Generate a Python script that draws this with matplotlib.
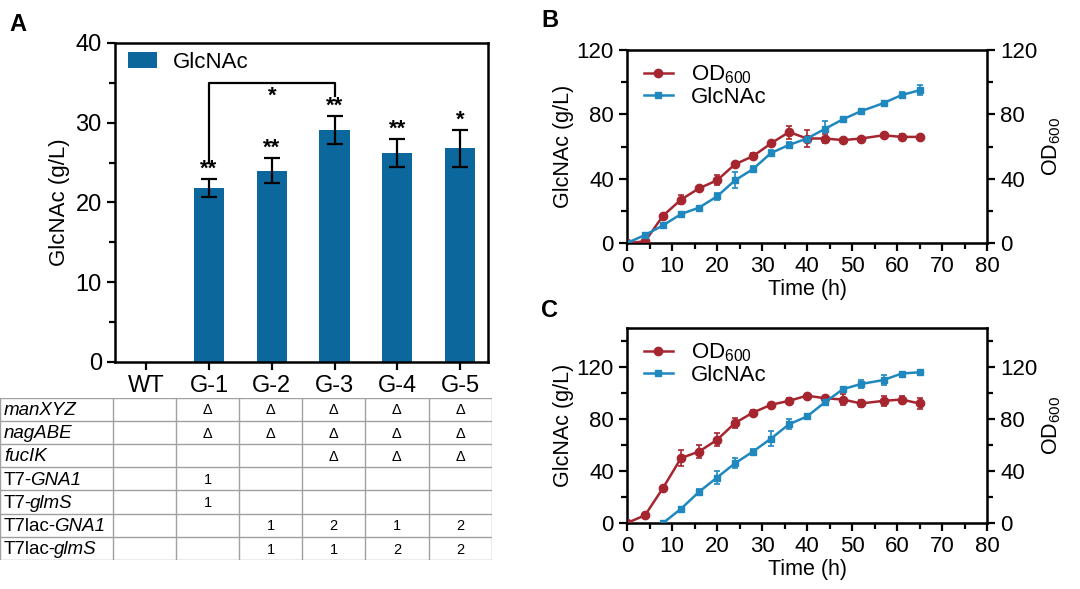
import matplotlib
matplotlib.use("Agg")
import matplotlib.pyplot as plt
from matplotlib.ticker import MultipleLocator
import numpy as np

plt.rcParams["font.family"] = ["Liberation Sans", "DejaVu Sans"]
plt.rcParams["mathtext.fontset"] = "custom"
plt.rcParams["mathtext.rm"] = "Liberation Sans"
plt.rcParams["mathtext.it"] = "Liberation Sans:italic"

# panel A data
strains = ["WT", "G-1", "G-2", "G-3", "G-4", "G-5"]
glcnac_titer = [0, 21.8, 24.0, 29.1, 26.2, 26.8]
glcnac_err = [0, 1.1, 1.6, 1.8, 1.8, 2.3]
sig_marks = ["", "**", "**", "**", "**", "*"]

row_prefix = ["", "", "", "T7-", "T7-", "T7lac-", "T7lac-"]
row_gene = ["manXYZ", "nagABE", "fucIK", "GNA1", "glmS", "GNA1", "glmS"]
table_cells = [
    ["", "Δ", "Δ", "Δ", "Δ", "Δ"],
    ["", "Δ", "Δ", "Δ", "Δ", "Δ"],
    ["", "", "", "Δ", "Δ", "Δ"],
    ["", "1", "", "", "", ""],
    ["", "1", "", "", "", ""],
    ["", "", "1", "2", "1", "2"],
    ["", "", "1", "1", "2", "2"],
]

# panel B data
time_b = [0, 4, 8, 12, 16, 20, 24, 28, 32, 36, 40, 44, 48, 52, 57, 61, 65]
od_b = [0, 1, 17, 27, 34, 39, 49, 54, 62, 69, 65, 65, 64, 65, 67, 66, 66]
od_b_err = [0.5, 1, 1, 3, 1.5, 3, 1.5, 2, 1.5, 4, 5, 3, 1, 1, 1, 2, 1]
glc_b = [0, 5, 11, 18, 22, 29, 39, 46, 56, 61, 65, 71, 77, 82, 87, 92, 95]
glc_b_err = [0.5, 1, 1, 1, 1, 2, 5, 2, 2, 2, 1, 5, 1, 1, 1, 2, 3]

# panel C data
time_c_od = [0, 4, 8, 12, 16, 20, 24, 28, 32, 36, 40, 44, 48, 52, 57, 61, 65]
od_c = [0, 6, 27, 50, 55, 64, 77, 85, 91, 94, 98, 96, 95, 92, 94, 95, 92]
od_c_err = [0.5, 1, 1.5, 6, 5, 5, 4, 2, 1.5, 2, 1, 1.5, 4, 3, 4, 3, 4]
time_c_glc = [8, 12, 16, 20, 24, 28, 32, 36, 40, 44, 48, 52, 57, 61, 65]
glc_c = [0, 11, 24, 35, 46, 55, 65, 76, 82, 93, 103, 107, 110, 115, 116]
glc_c_err = [0.5, 1, 2, 5, 4, 2, 6, 4, 2, 1.5, 1, 3, 4, 1, 2]

bar_color = "#0b679c"
red = "#a62630"
blue = "#1f88bf"

fig = plt.figure(figsize=(10.8, 5.89), dpi=100)

# ---- Panel A ----
axA = fig.add_axes([0.1065, 0.3854, 0.3455, 0.5416])
x = np.arange(len(strains))
axA.bar(x, glcnac_titer, width=0.48, color=bar_color, label="GlcNAc", zorder=2)
axA.errorbar(x[1:], glcnac_titer[1:], yerr=glcnac_err[1:], fmt="none", ecolor="black",
             elinewidth=1.6, capsize=6, capthick=1.6, zorder=3)
for xi, v, e, s in zip(x, glcnac_titer, glcnac_err, sig_marks):
    if s:
        axA.text(xi, v + e - 0.1, s, ha="center", va="bottom", fontsize=16, fontweight="bold")
# bracket G-1 vs G-3
axA.plot([1, 1, 3, 3], [25.0, 35.0, 35.0, 33.4], color="black", lw=1.6)
axA.text(2, 34.7, "*", ha="center", va="top", fontsize=16, fontweight="bold")
axA.set_xlim(-0.5, 5.45)
axA.set_ylim(0, 40)
axA.yaxis.set_major_locator(MultipleLocator(10))
axA.yaxis.set_minor_locator(MultipleLocator(5))
axA.set_xticks(x)
axA.set_xticklabels(strains)
axA.tick_params(labelsize=17)
axA.tick_params(which="major", length=6, width=1.6)
axA.tick_params(which="minor", length=4, width=1.6)
for sp in axA.spines.values():
    sp.set_linewidth(1.8)
axA.set_ylabel("GlcNAc (g/L)", fontsize=16, labelpad=4)
axA.legend(loc="upper left", fontsize=16, frameon=False, handlelength=1.3,
           handleheight=0.7, borderaxespad=0.0, handletextpad=0.75,
           bbox_to_anchor=(0.01, 1.0))
fig.text(0.009, 0.958, "A", fontsize=17, fontweight="bold", va="center")

# ---- table under panel A ----
axT = fig.add_axes([0.0, 0.049, 0.4555, 0.276])
col_edges = [0, 113, 176, 239, 302, 365, 429, 492]
n_rows = len(row_gene)
axT.set_xlim(0, 492)
axT.set_ylim(n_rows, 0)
axT.axis("off")
grid_c = "#a0a0a0"
for r in range(n_rows + 1):
    axT.plot([0, 492], [r, r], color=grid_c, lw=1.0)
for c in col_edges:
    axT.plot([c, c], [0, n_rows], color=grid_c, lw=1.0)
for r, (pre, gene, cells) in enumerate(zip(row_prefix, row_gene, table_cells)):
    if pre:
        t = axT.text(4, r + 0.55, pre, ha="left", va="center", fontsize=13.5)
        axT.annotate(gene, xy=(1, 0.5), xycoords=t, xytext=(-1.5, 0),
                     textcoords="offset points", ha="left", va="center",
                     fontsize=13.5, fontstyle="italic")
    else:
        axT.text(4, r + 0.55, gene, ha="left", va="center", fontsize=13.5, fontstyle="italic")
    for c, val in enumerate(cells):
        cx = (col_edges[c + 1] + col_edges[c + 2]) / 2
        axT.text(cx, r + 0.55, val, ha="center", va="center", fontsize=10.5)


def style_time_axes(ax, ymax):
    ax.set_xlim(0, 80)
    ax.set_ylim(0, ymax)
    ax.xaxis.set_major_locator(MultipleLocator(10))
    ax.xaxis.set_minor_locator(MultipleLocator(5))
    ax.yaxis.set_major_locator(MultipleLocator(40))
    ax.yaxis.set_minor_locator(MultipleLocator(20))
    ax.tick_params(labelsize=16)
    ax.tick_params(which="major", length=6, width=1.6)
    ax.tick_params(which="minor", length=4, width=1.6)
    for sp in ax.spines.values():
        sp.set_linewidth(1.8)
    ax.set_xlabel("Time (h)", fontsize=15.5, labelpad=1)
    ax.set_ylabel("GlcNAc (g/L)", fontsize=15.5, labelpad=2)
    ax2 = ax.twinx()
    ax2.set_ylim(0, ymax)
    ax2.yaxis.set_major_locator(MultipleLocator(40))
    ax2.yaxis.set_minor_locator(MultipleLocator(20))
    ax2.tick_params(labelsize=16)
    ax2.tick_params(which="major", length=6, width=1.6)
    ax2.tick_params(which="minor", length=4, width=1.6)
    ax2.set_ylabel("OD$_{600}$", fontsize=15.5, labelpad=2)
    return ax2


def draw_series(ax, t_od, od, od_err, t_glc, glc, glc_err):
    ax.errorbar(t_od, od, yerr=od_err, fmt="none", ecolor=red, elinewidth=1.2,
                capsize=2.5, capthick=1.2, zorder=3)
    ax.errorbar(t_glc, glc, yerr=glc_err, fmt="none", ecolor=blue, elinewidth=1.2,
                capsize=2.5, capthick=1.2, zorder=3)
    ax.plot(t_od, od, color=red, marker="o", markersize=6, lw=1.8, label="OD$_{600}$", zorder=4)
    ax.plot(t_glc, glc, color=blue, marker="s", markersize=3.8, lw=1.8, label="GlcNAc", zorder=4)
    ax.legend(loc="upper left", fontsize=16, frameon=False, handlelength=1.3,
              borderaxespad=0.2, labelspacing=0.05, handletextpad=0.8,
              bbox_to_anchor=(0.01, 1.0))


# ---- Panel B ----
axB = fig.add_axes([0.5806, 0.5874, 0.3333, 0.3276])
style_time_axes(axB, 120)
draw_series(axB, time_b, od_b, od_b_err, time_b, glc_b, glc_b_err)
fig.text(0.501, 0.966, "B", fontsize=17, fontweight="bold", va="center")

# ---- Panel C ----
axC = fig.add_axes([0.5806, 0.112, 0.3333, 0.331])
style_time_axes(axC, 150)
draw_series(axC, time_c_od, od_c, od_c_err, time_c_glc, glc_c, glc_c_err)
fig.text(0.501, 0.472, "C", fontsize=17, fontweight="bold", va="center")

fig.savefig("out.png", dpi=100)
